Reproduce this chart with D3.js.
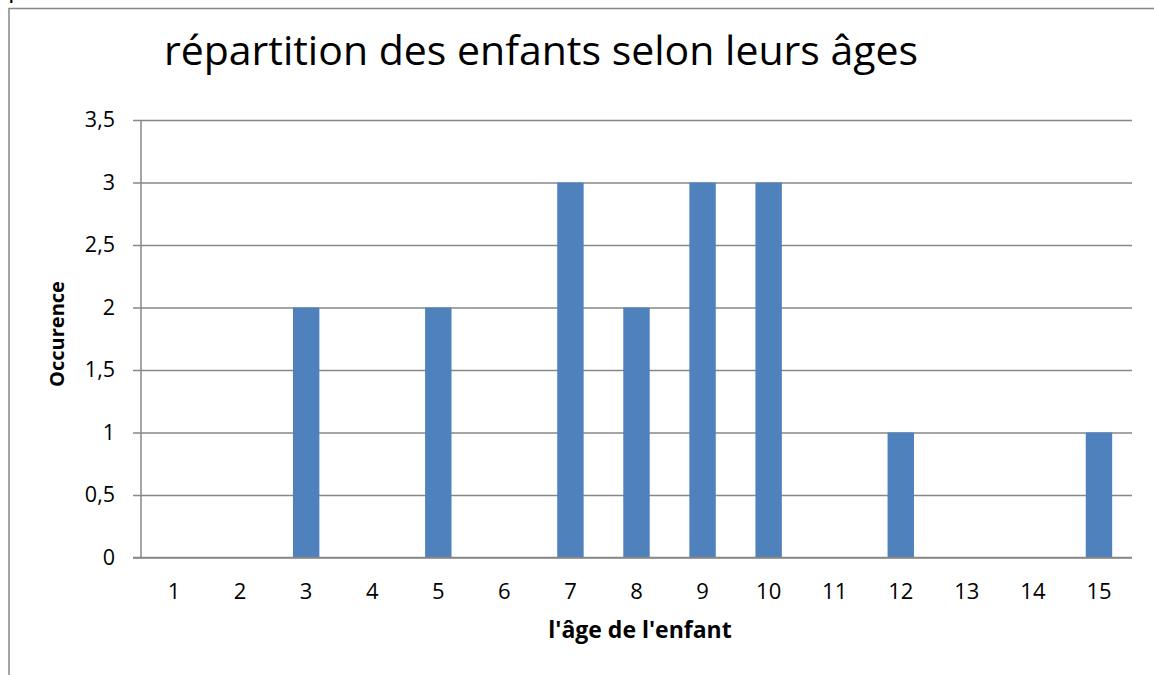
<!DOCTYPE html>
<html>
<head>
<meta charset="utf-8">
<script src="https://cdn.jsdelivr.net/npm/d3@7"></script>
<style>
  body { margin: 0; background: #fff; }
  text { font-family: "Open Sans", "Liberation Sans", sans-serif; }
</style>
</head>
<body>
<svg class="chart" width="1154" height="675"></svg>
<script>
// data
const ages = ['1', '2', '3', '4', '5', '6', '7', '8', '9', '10', '11', '12', '13', '14', '15']
const counts = [0, 0, 2, 0, 2, 0, 3, 2, 3, 3, 0, 1, 0, 0, 1]
const yTicks = [0, 0.5, 1, 1.5, 2, 2.5, 3, 3.5]

const svg = d3.select('.chart')
const plotLeft = 141, plotRight = 1132, plotTop = 120, plotBottom = 557.5

// outer frame (cut off at right and bottom)
svg.append('path')
  .attr('d', 'M9,680 L9,8.5 L1160,8.5')
  .attr('fill', 'none')
  .attr('stroke', '#868686')
  .attr('stroke-width', 1.5)

// leftover glyph from the page above
svg.append('text')
  .attr('x', 8).attr('y', -3)
  .attr('font-family', 'Liberation Serif')
  .attr('font-size', 26)
  .text('p')

const x = d3.scaleBand().domain(ages).range([plotLeft, plotRight]).paddingInner(0.6).paddingOuter(0.3)
const y = d3.scaleLinear().domain([0, 3.5]).range([plotBottom, plotTop])

// gridlines + y axis
const yAxis = d3.axisLeft(y)
  .tickValues(yTicks)
  .tickSize(-(plotRight - plotLeft))
  .tickFormat(d => String(d).replace('.', ','))
  .tickPadding(26)
const gy = svg.append('g').attr('transform', `translate(${plotLeft},0)`).call(yAxis)
gy.select('.domain').remove()
gy.selectAll('.tick line')
  .attr('x1', -8)
  .attr('stroke', '#878787')
  .attr('stroke-width', 1.5)
gy.selectAll('.tick text')
  .attr('font-size', 21.5)
  .attr('fill', '#000')

svg.append('line')
  .attr('x1', plotLeft).attr('x2', plotLeft)
  .attr('y1', plotTop).attr('y2', plotBottom)
  .attr('stroke', '#878787').attr('stroke-width', 1.5)

// bars
svg.append('g').selectAll('rect')
  .data(counts)
  .join('rect')
  .attr('x', (d, i) => x(ages[i]))
  .attr('y', d => y(d))
  .attr('width', x.bandwidth())
  .attr('height', d => plotBottom - y(d))
  .attr('fill', '#4f81bd')

// x axis labels
const gx = svg.append('g').attr('transform', `translate(0,${plotBottom})`)
  .call(d3.axisBottom(x).tickSize(0).tickPadding(26))
gx.select('.domain').remove()
gx.selectAll('.tick text')
  .attr('font-size', 22)
  .attr('fill', '#000')

svg.append('line')
  .attr('x1', plotLeft - 8).attr('x2', plotRight)
  .attr('y1', plotBottom).attr('y2', plotBottom)
  .attr('stroke', '#878787').attr('stroke-width', 1.5)

// titles
svg.append('text')
  .attr('x', 541).attr('y', 65)
  .attr('text-anchor', 'middle')
  .attr('font-size', 41)
  .text('répartition des enfants selon leurs âges')

svg.append('text')
  .attr('x', 640).attr('y', 638)
  .attr('text-anchor', 'middle')
  .attr('font-size', 23)
  .attr('font-weight', 'bold')
  .text("l'âge de l'enfant")

svg.append('text')
  .attr('transform', 'translate(64,334) rotate(-90)')
  .attr('text-anchor', 'middle')
  .attr('font-size', 20)
  .attr('font-weight', 'bold')
  .text('Occurence')
</script>
</body>
</html>
